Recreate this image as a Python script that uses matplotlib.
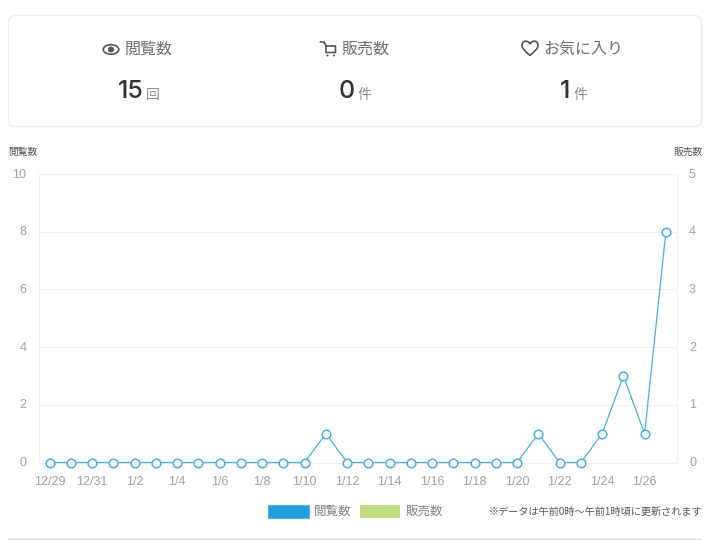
import matplotlib
matplotlib.use('Agg')
import matplotlib.pyplot as plt
from matplotlib.patches import FancyBboxPatch, Rectangle, Ellipse, Circle, PathPatch
from matplotlib.path import Path
from matplotlib.transforms import ScaledTranslation

plt.rcParams['font.family'] = ['Noto Sans CJK JP', 'DejaVu Sans']

dates = ['12/29', '12/30', '12/31', '1/1', '1/2', '1/3', '1/4', '1/5', '1/6', '1/7',
         '1/8', '1/9', '1/10', '1/11', '1/12', '1/13', '1/14', '1/15', '1/16', '1/17',
         '1/18', '1/19', '1/20', '1/21', '1/22', '1/23', '1/24', '1/25', '1/26', '1/27']
views = [0, 0, 0, 0, 0, 0, 0, 0, 0, 0, 0, 0, 0, 1, 0, 0, 0, 0, 0, 0, 0, 0, 0, 1, 0, 0, 1, 3, 1, 8]
left_ticks = [0, 2, 4, 6, 8, 10]
right_ticks = [0, 1, 2, 3, 4, 5]
summary_labels = ['閲覧数', '販売数', 'お気に入り']
summary_values = ['15', '0', '1']
summary_units = ['回', '件', '件']

W, H = 722, 540
BLUE = '#45b0e6'
GRID = '#f1f1f1'

fig = plt.figure(figsize=(W / 100, H / 100), dpi=100)

# overlay in pixel coordinates for the card, icons, labels
bg = fig.add_axes([0, 0, 1, 1])
bg.set_xlim(0, W)
bg.set_ylim(H, 0)
bg.axis('off')

bg.add_patch(FancyBboxPatch((8.5, 15.5), 693, 111, boxstyle='round,pad=0,rounding_size=7',
                            fc='white', ec='#eeeeee', lw=1))
bg.plot([9, 702], [539.5, 539.5], color='#d4d4d4', lw=1.5, clip_on=False)

# summary text
label_x = [124.5, 341.5, 543]
number_x = [144, 355, 570]
unit_x = [146, 357, 574]
for i in range(3):
    bg.text(label_x[i], 49.5, summary_labels[i], fontsize=11.5, color='#6e6e6e', ha='left', va='center')
    bg.text(number_x[i], 92, summary_values[i], fontsize=18, color='#333333', ha='right', va='center',
            family=['Inter', 'DejaVu Sans'], fontweight='medium')
    bg.text(unit_x[i], 94.5, summary_units[i], fontsize=10, color='#8c8c8c', ha='left', va='center')

# eye icon
bg.add_patch(Ellipse((111, 49.5), 15.5, 9.5, fc='none', ec='#555555', lw=1.2))
bg.add_patch(Circle((111, 49.5), 3, fc='#555555', ec='none'))

# cart icon
bg.plot([320.5, 324, 326, 326, 335.5, 335.5, 326], [42, 42, 46, 52.5, 52.5, 46, 46], color='#555555', lw=1.2)
bg.add_patch(Circle((327.5, 55.5), 1, fc='#555555', ec='none'))
bg.add_patch(Circle((334, 55.5), 1, fc='#555555', ec='none'))

# heart icon
heart = Path([(530, 55.5), (525, 51), (522, 48.5), (522, 45.5), (522, 40), (528, 40), (530, 44),
              (532, 40), (538, 40), (538, 45.5), (538, 48.5), (535, 51), (530, 55.5)],
             [Path.MOVETO, Path.CURVE4, Path.CURVE4, Path.CURVE4, Path.CURVE4, Path.CURVE4, Path.CURVE4,
              Path.CURVE4, Path.CURVE4, Path.CURVE4, Path.CURVE4, Path.CURVE4, Path.CURVE4])
bg.add_patch(PathPatch(heart, fc='none', ec='#555555', lw=1.2))

# axis titles
bg.text(8, 151.5, '閲覧数', fontsize=7, color='#555555', ha='left', va='center')
bg.text(702.5, 151.5, '販売数', fontsize=7, color='#555555', ha='right', va='center')

# legend and note
bg.add_patch(Rectangle((267.5, 504.5), 41, 13, fc='#229fdc', ec='#4db5e8', lw=0.8))
bg.text(314, 511.5, '閲覧数', fontsize=9, color='#808080', ha='left', va='center')
bg.add_patch(Rectangle((360, 505), 40, 12.5, fc='#c0dd82', ec='none'))
bg.text(406, 511.5, '販売数', fontsize=9, color='#808080', ha='left', va='center')
bg.text(489, 511.5, '※データは午前0時〜午前1時頃に更新されます', fontsize=7.3, color='#555555', ha='left', va='center')

# main chart
x0, x1, y0, y1 = 39, 676.5, 174, 462.5
ax = fig.add_axes([x0 / W, 1 - y1 / H, (x1 - x0) / W, (y1 - y0) / H])
ax.patch.set_alpha(0)
xs = list(range(len(dates)))
ax.plot(xs, views, color=BLUE, lw=0.9, marker='o', ms=6.2, mfc='white', mec=BLUE, mew=1.1, clip_on=False, zorder=3)
ax.set_xlim(-0.5, len(dates) - 0.5)
ax.set_ylim(0, 10)
ax.set_yticks(left_ticks)
ax.set_xticks(xs[::2])
ax.set_xticklabels(dates[::2])
ax.grid(axis='y', color=GRID, lw=0.8)
ax.set_axisbelow(True)
ax.tick_params(length=0, labelsize=9, labelcolor='#a0a0a0')
ax.tick_params(axis='x', pad=10)
ax.tick_params(axis='y', pad=9)
for s in ax.spines.values():
    s.set_color(GRID)
    s.set_linewidth(0.8)
for t in ax.get_xticklabels() + ax.get_yticklabels():
    t.set_family('Liberation Sans')

ax2 = ax.twinx()
ax2.set_ylim(0, 5)
ax2.set_yticks(right_ticks)
ax2.tick_params(length=0, labelsize=9, labelcolor='#a0a0a0', pad=9)
for t in ax2.get_yticklabels():
    t.set_family('Liberation Sans')
for s in ax2.spines.values():
    s.set_visible(False)
ax.set_zorder(ax2.get_zorder() + 1)

# y tick labels sit a little above their gridlines
up = ScaledTranslation(0, 1 / 100, fig.dpi_scale_trans)
for t in ax.get_yticklabels() + ax2.get_yticklabels():
    t.set_transform(t.get_transform() + up)

plt.savefig('out.png', dpi=100)
